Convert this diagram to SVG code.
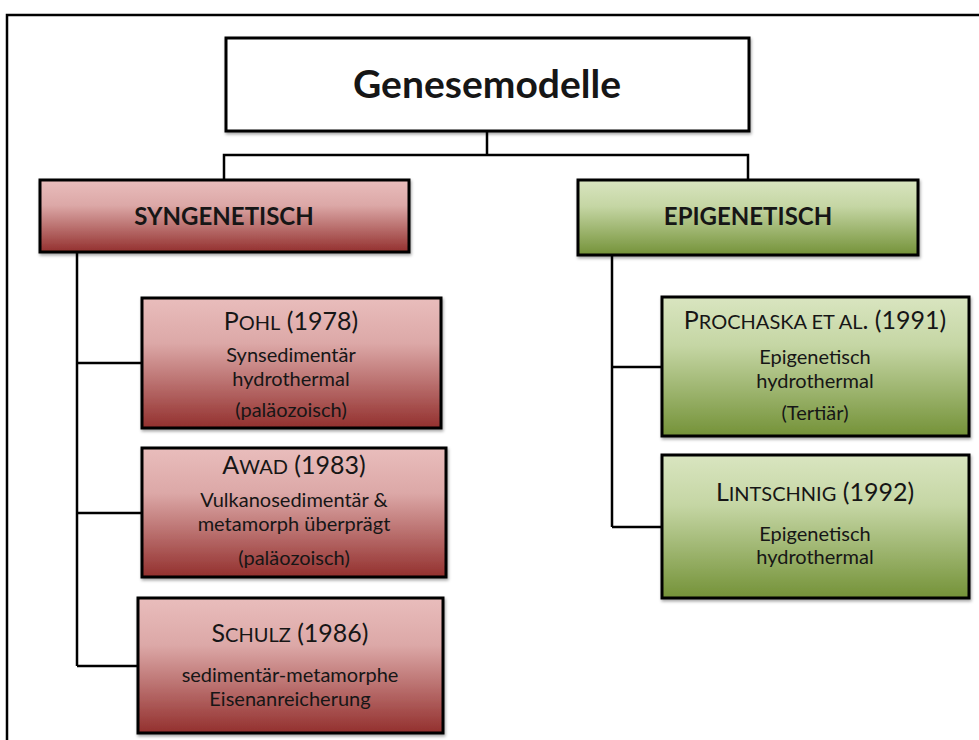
<svg xmlns="http://www.w3.org/2000/svg" width="979" height="740" viewBox="0 0 979 740">
<defs>
<linearGradient id="red" x1="0" y1="0" x2="0" y2="1">
<stop offset="0" stop-color="#e9bdbc"/><stop offset="0.35" stop-color="#dca8a7"/><stop offset="1" stop-color="#93302e"/>
</linearGradient>
<linearGradient id="green" x1="0" y1="0" x2="0" y2="1">
<stop offset="0" stop-color="#d9e5c0"/><stop offset="0.35" stop-color="#c5d6a4"/><stop offset="1" stop-color="#749238"/>
</linearGradient>
<filter id="sh" x="-5%" y="-5%" width="110%" height="115%"><feDropShadow dx="1" dy="2" stdDeviation="1.5" flood-color="#000" flood-opacity="0.35"/></filter>
</defs>
<style>
.box{stroke:#000;stroke-width:3;filter:url(#sh)}
.r{fill:url(#red)}.g{fill:url(#green)}
text{font-family:Lato,"Open Sans","Liberation Sans",sans-serif;fill:#161616;text-anchor:middle}
.h{font-weight:bold;font-size:24px}
.n{font-size:25px}
.sc{font-size:20px}
.d{font-size:20px}
.c{stroke:#000;stroke-width:2.5;fill:none}
</style>
<rect width="979" height="740" fill="#fff"/>
<path d="M7 740 V15 H979" fill="none" stroke="#000" stroke-width="2.5"/>
<g id="connectors">
<path class="c" d="M487 131 V155 M224 180 V155 H748 V180"/>
<path class="c" d="M77 252 V666 M77 363 H142 M77 513 H142 M77 666 H138"/>
<path class="c" d="M612 255 V527 M612 367 H662 M612 527 H662"/>
</g>
<g id="root">
<rect class="box" x="226" y="38" width="523" height="93" fill="#fff"/>
<text x="487" y="98" style="font-weight:bold;font-size:39px">Genesemodelle</text>
</g>
<g id="syngenetisch">
<rect class="box r" x="40" y="180" width="369" height="72"/>
<text class="h" x="224" y="225">SYNGENETISCH</text>
</g>
<g id="epigenetisch">
<rect class="box g" x="578" y="180" width="340" height="75"/>
<text class="h" x="748" y="225">EPIGENETISCH</text>
</g>
<g id="pohl">
<rect class="box r" x="142" y="298" width="299" height="130"/>
<text class="n" x="291" y="330">P<tspan class="sc">OHL</tspan> (1978)</text>
<text class="d" x="291" y="362">Synsedimentär</text>
<text class="d" x="291" y="386">hydrothermal</text>
<text class="d" x="291" y="417">(paläozoisch)</text>
</g>
<g id="awad">
<rect class="box r" x="142" y="448" width="304" height="129"/>
<text class="n" x="294" y="474">A<tspan class="sc">WAD</tspan> (1983)</text>
<text class="d" x="294" y="507">Vulkanosedimentär &amp;</text>
<text class="d" x="294" y="531">metamorph überprägt</text>
<text class="d" x="294" y="565">(paläozoisch)</text>
</g>
<g id="schulz">
<rect class="box r" x="138" y="598" width="305" height="135"/>
<text class="n" x="290" y="642">S<tspan class="sc">CHULZ</tspan> (1986)</text>
<text class="d" x="290" y="682">sedimentär-metamorphe</text>
<text class="d" x="290" y="706">Eisenanreicherung</text>
</g>
<g id="prochaska">
<rect class="box g" x="662" y="297" width="307" height="139"/>
<text class="n" x="815" y="329">P<tspan class="sc">ROCHASKA ET AL</tspan>. (1991)</text>
<text class="d" x="815" y="364">Epigenetisch</text>
<text class="d" x="815" y="388">hydrothermal</text>
<text class="d" x="815" y="420">(Tertiär)</text>
</g>
<g id="lintschnig">
<rect class="box g" x="662" y="455" width="307" height="143"/>
<text class="n" x="815" y="501">L<tspan class="sc">INTSCHNIG</tspan> (1992)</text>
<text class="d" x="815" y="541">Epigenetisch</text>
<text class="d" x="815" y="564">hydrothermal</text>
</g>
</svg>
